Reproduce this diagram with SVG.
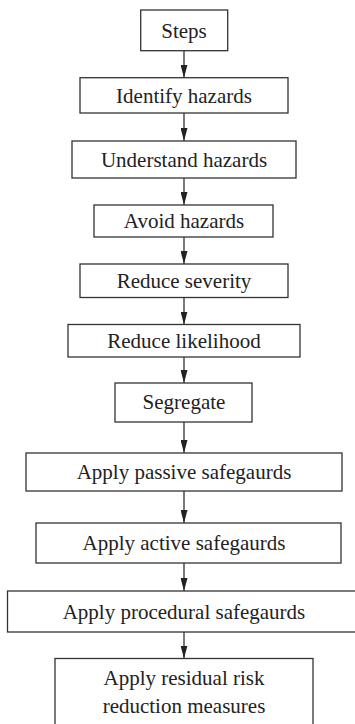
<svg xmlns="http://www.w3.org/2000/svg" width="355" height="724" viewBox="0 0 355 724">
<style>
.box{fill:#fff;stroke:#333;stroke-width:1.3}
.t{font-family:"Liberation Serif","Times New Roman",serif;font-size:21px;fill:#222;text-anchor:middle}
.c{stroke:#333;stroke-width:1.3;fill:none}
</style>
<defs>
<marker id="ah" markerWidth="13" markerHeight="7" refX="13" refY="3.5" orient="auto" markerUnits="userSpaceOnUse" viewBox="0 0 13 7">
<path d="M0,0 L13,3.5 L0,7 Z" fill="#222"/>
</marker>
</defs>
<rect width="355" height="724" fill="#fff"/>
<g id="connectors">
<line class="c" x1="184" y1="50.7" x2="184" y2="77.7" marker-end="url(#ah)"/>
<line class="c" x1="184" y1="113" x2="184" y2="141" marker-end="url(#ah)"/>
<line class="c" x1="184" y1="178" x2="184" y2="205" marker-end="url(#ah)"/>
<line class="c" x1="184" y1="237" x2="184" y2="264" marker-end="url(#ah)"/>
<line class="c" x1="184" y1="297.5" x2="184" y2="324.5" marker-end="url(#ah)"/>
<line class="c" x1="184" y1="357" x2="184" y2="383" marker-end="url(#ah)"/>
<line class="c" x1="184" y1="422" x2="184" y2="453" marker-end="url(#ah)"/>
<line class="c" x1="184" y1="491" x2="184" y2="523" marker-end="url(#ah)"/>
<line class="c" x1="184" y1="563" x2="184" y2="591" marker-end="url(#ah)"/>
<line class="c" x1="184" y1="632" x2="184" y2="658.5" marker-end="url(#ah)"/>
</g>
<g id="n1"><rect class="box" x="140.7" y="10" width="87" height="40.7"/><text class="t" x="184" y="37.5">Steps</text></g>
<g id="n2"><rect class="box" x="80" y="77.7" width="208" height="35.3"/><text class="t" x="184" y="102.5">Identify hazards</text></g>
<g id="n3"><rect class="box" x="72" y="141" width="224" height="37"/><text class="t" x="184" y="166.5">Understand hazards</text></g>
<g id="n4"><rect class="box" x="94" y="205" width="179" height="32"/><text class="t" x="184" y="228">Avoid hazards</text></g>
<g id="n5"><rect class="box" x="80" y="264" width="208" height="33.5"/><text class="t" x="184" y="288">Reduce severity</text></g>
<g id="n6"><rect class="box" x="68" y="324.5" width="232" height="32.5"/><text class="t" x="184" y="348">Reduce likelihood</text></g>
<g id="n7"><rect class="box" x="115" y="383" width="137" height="39"/><text class="t" x="184" y="409">Segregate</text></g>
<g id="n8"><rect class="box" x="26" y="453" width="316" height="38"/><text class="t" x="184" y="479">Apply passive safegaurds</text></g>
<g id="n9"><rect class="box" x="36" y="523" width="305" height="40"/><text class="t" x="184" y="550">Apply active safegaurds</text></g>
<g id="n10"><rect class="box" x="7.5" y="591" width="354" height="41"/><text class="t" x="184" y="618.5">Apply procedural safegaurds</text></g>
<g id="n11"><rect class="box" x="55" y="658.5" width="258" height="72"/><text class="t" x="184" y="685">Apply residual risk</text><text class="t" x="184" y="713">reduction measures</text></g>
</svg>
